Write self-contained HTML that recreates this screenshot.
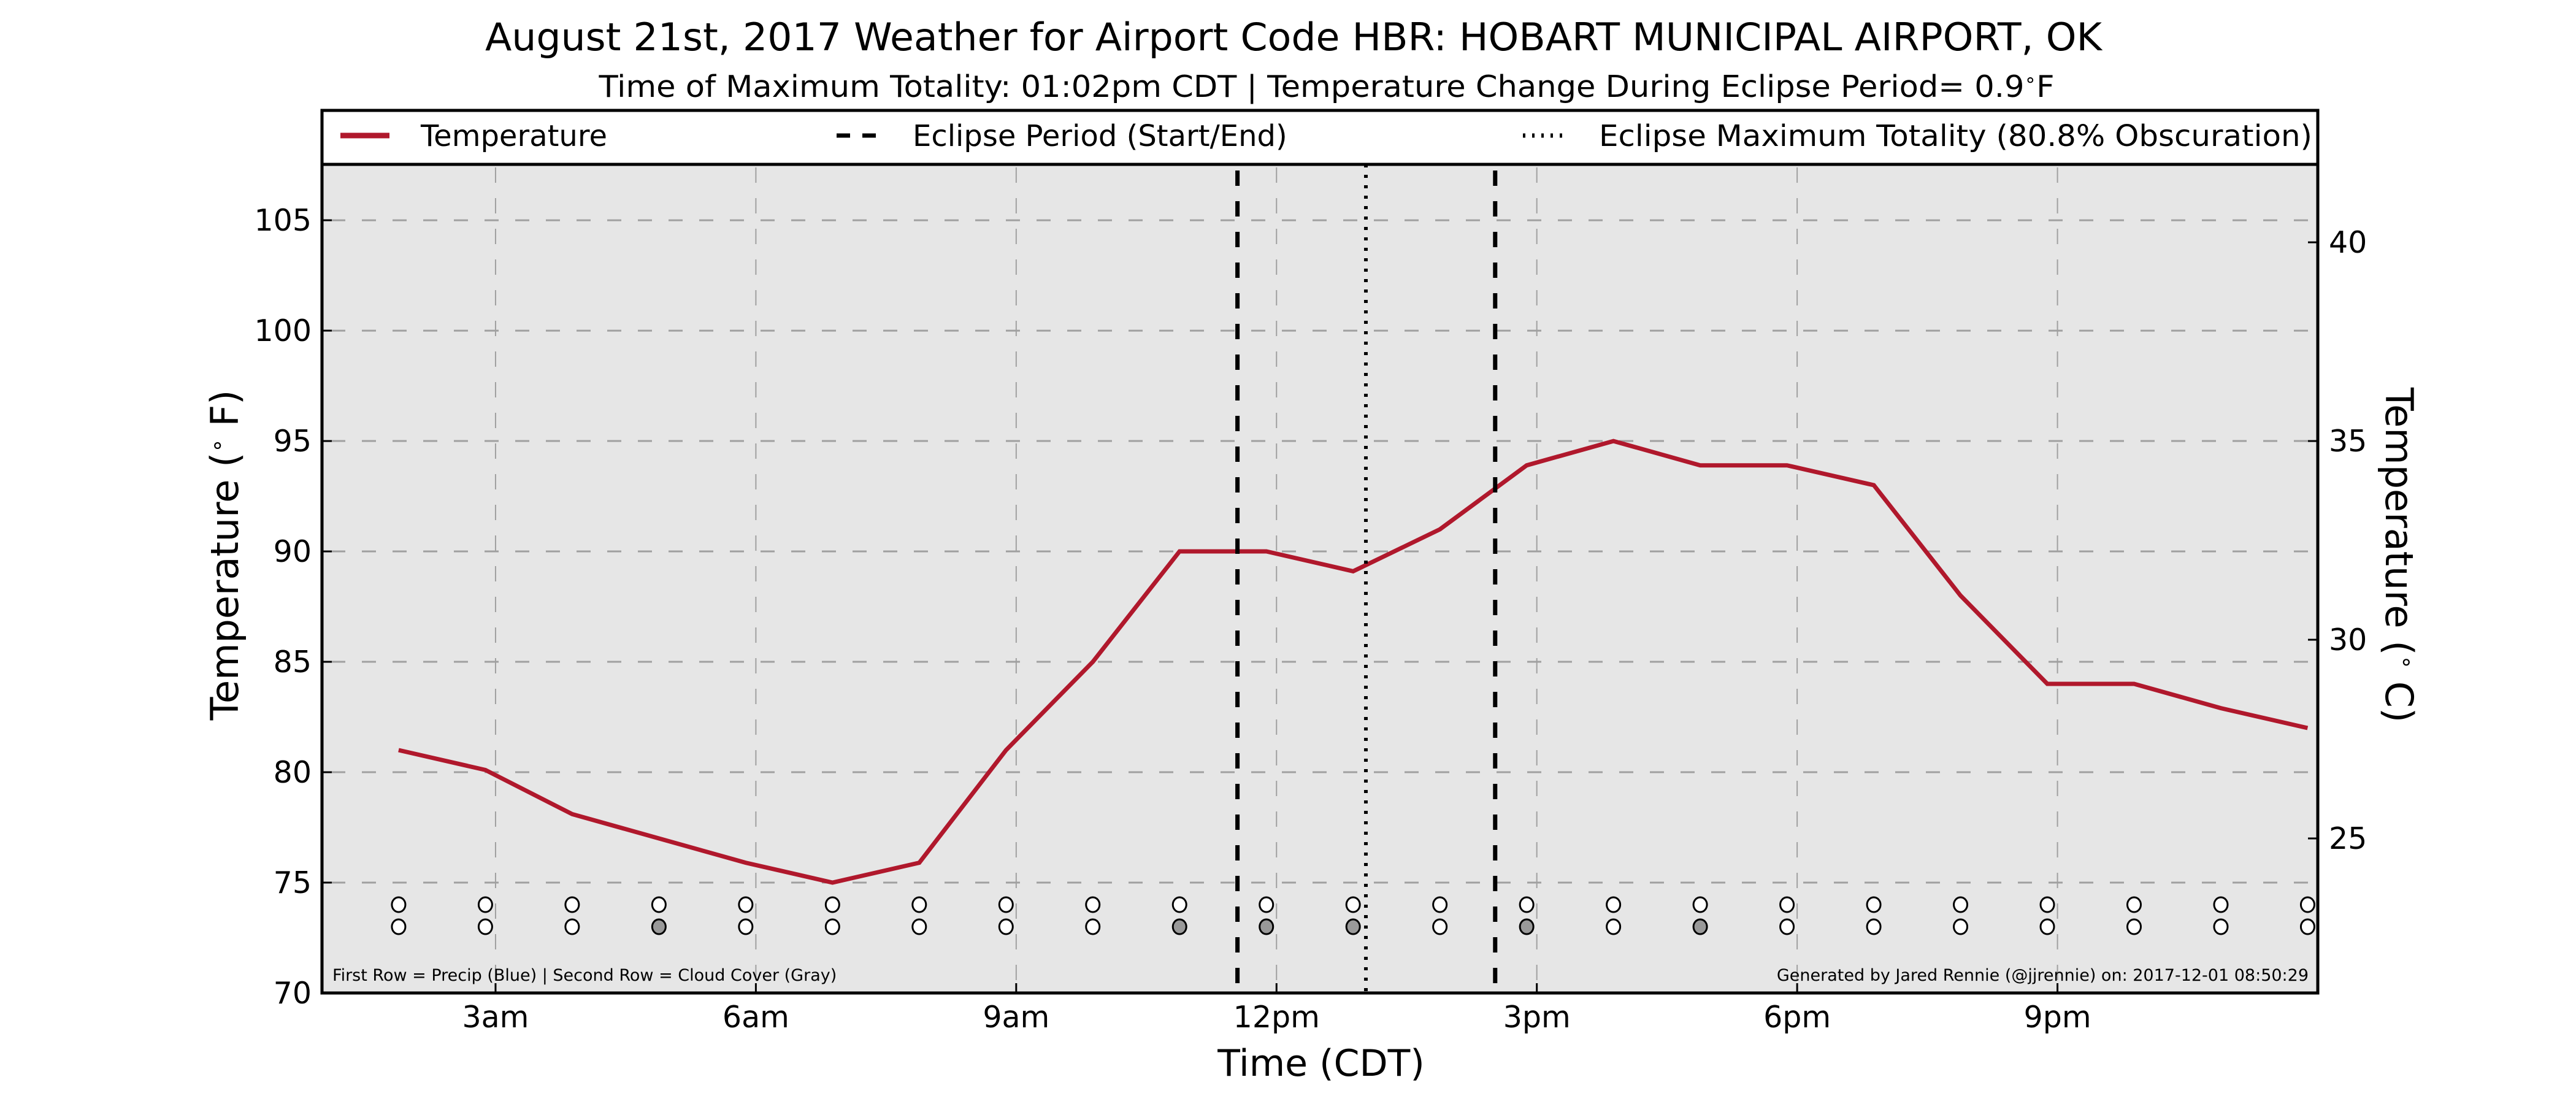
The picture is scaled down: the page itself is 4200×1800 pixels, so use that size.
<!DOCTYPE html>
<html><head><meta charset="utf-8"><style>html,body{margin:0;padding:0;background:#fff}svg{display:block}text{font-family:"DejaVu Sans","Liberation Sans",sans-serif}</style></head>
<body>
<svg id="chart" xmlns="http://www.w3.org/2000/svg" width="4200" height="1800" viewBox="0 0 4200 1800">
<rect x="0" y="0" width="4200" height="1800" fill="#fff"/>
<text x="2109" y="82" font-size="62" text-anchor="middle" textLength="2636" lengthAdjust="spacingAndGlyphs">August 21st, 2017 Weather for Airport Code HBR: HOBART MUNICIPAL  AIRPORT, OK</text>
<text x="2163" y="158" font-size="49" text-anchor="middle" textLength="2373" lengthAdjust="spacingAndGlyphs">Time of Maximum Totality: 01:02pm CDT | Temperature Change During Eclipse Period= 0.9<tspan font-size="30" dy="-18">∘</tspan><tspan dy="18">F</tspan></text>
<rect x="525" y="268" width="3254" height="1351" fill="#e6e6e6"/>
<g id="grid"></g>
<g id="marks"></g>
<rect x="525" y="180" width="3254" height="88" fill="#fff" stroke="#000" stroke-width="5"/>
<g><line x1="555" y1="221" x2="635" y2="221" stroke="#b0182c" stroke-width="9"/><text x="686" y="238" font-size="48">Temperature</text></g>
<g><line x1="1364" y1="221" x2="1428" y2="221" stroke="#000" stroke-width="7" stroke-dasharray="22,20"/><text x="1488" y="238" font-size="48">Eclipse Period (Start/End)</text></g>
<g><line x1="2483" y1="221" x2="2553" y2="221" stroke="#000" stroke-width="7" stroke-dasharray="4,11"/><text x="2607" y="238" font-size="48" textLength="1163" lengthAdjust="spacingAndGlyphs">Eclipse Maximum Totality (80.8% Obscuration)</text></g>
<rect x="525" y="268" width="3254" height="1351" fill="none" stroke="#000" stroke-width="5"/>
<text x="542" y="1599" font-size="27">First Row = Precip (Blue) | Second Row = Cloud Cover (Gray)</text>
<text x="3764" y="1599" font-size="27" text-anchor="end">Generated by Jared Rennie (@jjrennie) on: 2017-12-01 08:50:29</text>
<text x="2154" y="1754" font-size="60" text-anchor="middle">Time (CDT)</text>
<text transform="translate(388,905) rotate(-90)" font-size="62" text-anchor="middle">Temperature (<tspan font-size="36" dy="-22">∘</tspan><tspan dy="22"> F)</tspan></text>
<text transform="translate(3890,905) rotate(90)" font-size="62" text-anchor="middle">Temperature (<tspan font-size="36" dy="-22">∘</tspan><tspan dy="22"> C)</tspan></text>
<g id="axes"></g>
</svg>
<script>
const hours = [1.883,2.883,3.883,4.883,5.883,6.883,7.883,8.883,9.883,10.883,11.883,12.883,13.883,14.883,15.883,16.883,17.883,18.883,19.883,20.883,21.883,22.883,23.883];
const tempsF = [81,80.1,78.1,77,75.9,75,75.9,81,85,90,90,89.1,91,93.9,95,93.9,93.9,93,88,84,84,82.9,82];
const cloudFlags = [0,0,0,1,0,0,0,0,0,1,1,1,0,1,0,1,0,0,0,0,0,0,0];
const precipFlags = [0,0,0,0,0,0,0,0,0,0,0,0,0,0,0,0,0,0,0,0,0,0,0];
const eclipseTimes = [11.55,14.52];
const eclipseMax = [13.03];
const xTickHours = [3,6,9,12,15,18,21];
const xTickLabels = ["3am","6am","9am","12pm","3pm","6pm","9pm"];
const yTicksF = [70,75,80,85,90,95,100,105];
const yTicksC = [25,30,35,40];

const NS = "http://www.w3.org/2000/svg";
const L=525,R=3779,T=268,B=1619;
const xMin=1,xMax=24,yMin=70,yMax=107.53;
const x = h => L+(h-xMin)/(xMax-xMin)*(R-L);
const y = f => B-(f-yMin)/(yMax-yMin)*(B-T);
const yC = c => y(c*1.8+32);
function mk(tag, attrs, parent, txt){const e=document.createElementNS(NS,tag);for(const k in attrs)e.setAttribute(k,attrs[k]);if(txt!==undefined)e.textContent=txt;parent.appendChild(e);return e;}
const grid=document.getElementById('grid'), marks=document.getElementById('marks'), axes=document.getElementById('axes');

yTicksF.forEach(v=>{
  const g=mk('line',{x1:L,x2:R,y1:y(v),y2:y(v),stroke:'#a0a0a0','stroke-width':3,'stroke-dasharray':'23,27','stroke-dashoffset':-15},grid);
  
  
  const t=mk('line',{x1:L,x2:L+16,y1:y(v),y2:y(v),stroke:'#000','stroke-width':3},axes);
  
  
  const lb=mk('text',{x:L-17,y:y(v)+17,'font-size':49,'text-anchor':'end'},axes,String(v));
  
  
});
yTicksC.forEach(v=>{
  const t=mk('line',{x1:R-16,x2:R,y1:yC(v),y2:yC(v),stroke:'#000','stroke-width':3},axes);
  
  
  const lb=mk('text',{x:R+18,y:yC(v)+17,'font-size':49},axes,String(v));
  
  
});
xTickHours.forEach((h,i)=>{
  const g=mk('line',{x1:x(h),x2:x(h),y1:T,y2:B,stroke:'#a0a0a0','stroke-width':2,'stroke-dasharray':'25,25','stroke-dashoffset':-5},grid);
  
  
  const t=mk('line',{x1:x(h),x2:x(h),y1:B-16,y2:B,stroke:'#000','stroke-width':3},axes);
  
  
  const lb=mk('text',{x:x(h),y:1675,'font-size':49,'text-anchor':'middle'},axes,xTickLabels[i]);
  
  
});
const pts=hours.map((h,i)=>x(h).toFixed(1)+','+y(tempsF[i]).toFixed(1)).join(' ');
const line=mk('polyline',{points:pts,fill:'none',stroke:'#b0182c','stroke-width':7,'stroke-linejoin':'miter'},marks);


eclipseTimes.forEach(h=>{
  const e=mk('line',{x1:x(h),x2:x(h),y1:T,y2:B,stroke:'#000','stroke-width':7,'stroke-dasharray':'25,25','stroke-dashoffset':-10},marks);
  
  
});
eclipseMax.forEach(h=>{
  const e=mk('line',{x1:x(h),x2:x(h),y1:T,y2:B,stroke:'#000','stroke-width':6,'stroke-dasharray':'5,12'},marks);
  
  
});
hours.forEach((h,i)=>{
  const p=mk('ellipse',{cx:x(h),cy:y(74),rx:11,ry:12,fill:precipFlags[i]?'#4a7fd0':'#fff',stroke:'#000','stroke-width':3},marks);
  
  
  const c=mk('ellipse',{cx:x(h),cy:y(73),rx:11,ry:12,fill:cloudFlags[i]?'#999':'#fff',stroke:'#000','stroke-width':3},marks);
  
  
});
</script>
</body></html>
